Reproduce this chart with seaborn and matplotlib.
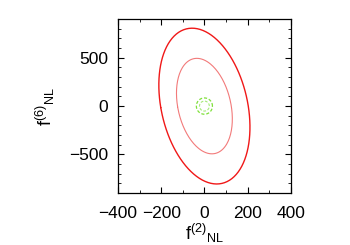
#!/usr/bin/env python3

import numpy as np
import pandas as pd
import matplotlib
matplotlib.use("Agg")
import matplotlib.pyplot as plt
import seaborn as sns
from matplotlib.ticker import MultipleLocator


# Fisher-matrix style error ellipses for f_NL^(2) vs f_NL^(6)
centre_x = 0.0
centre_y = 0.0

# wide constraint (red) and tight constraint (green)
sigma_x = [85.0, 15.0]
sigma_y = [325.0, 34.0]
rho = [-0.27, 0.0]
labels = ["wide", "tight"]

# 68% and 95% contour scale factors for 2 parameters
level_k = [1.52, 2.48]

x_ticks = [-400, -200, 0, 200, 400]
y_ticks = [-500, 0, 500]


def ellipse(sx, sy, r, k, n=200):
    t = np.linspace(0, 2 * np.pi, n)
    cov = np.array([[sx**2, r * sx * sy], [r * sx * sy, sy**2]])
    vals, vecs = np.linalg.eigh(cov)
    circ = np.vstack([np.cos(t), np.sin(t)]) * k
    pts = vecs @ (np.sqrt(vals)[:, None] * circ)
    return centre_x + pts[0], centre_y + pts[1]


frames = []
for i, name in enumerate(labels):
    for j, k in enumerate(level_k):
        ex, ey = ellipse(sigma_x[i], sigma_y[i], rho[i], k)
        frames.append(pd.DataFrame({"x": ex, "y": ey, "set": name, "level": j}))
df = pd.concat(frames, ignore_index=True)

sns.set_style("ticks")
plt.rcParams["font.family"] = ["Liberation Sans", "DejaVu Sans"]
plt.rcParams["mathtext.default"] = "regular"
for key in ["text.color", "axes.labelcolor", "xtick.color", "ytick.color"]:
    plt.rcParams[key] = "black"

fig = plt.figure(figsize=(3.5, 2.45), dpi=100)
ax = fig.add_axes([0.337, 0.212, 0.494, 0.71])

styles = {("wide", 1): dict(color="#f01818", lw=1.0, ls="-"),
          ("wide", 0): dict(color="#f27a7a", lw=0.8, ls="-"),
          ("tight", 1): dict(color="#7fe03a", lw=0.9, ls=(0, (2.5, 1.5))),
          ("tight", 0): dict(color="#a6ea7a", lw=0.8, ls=(0, (2.5, 1.5)))}

for (name, lev), sub in df.groupby(["set", "level"]):
    st = styles[(name, lev)]
    sns.lineplot(data=sub, x="x", y="y", sort=False, estimator=None, ax=ax,
                 color=st["color"], linewidth=st["lw"], linestyle=st["ls"])

ax.set_xlim(-400, 400)
ax.set_ylim(-900, 900)
ax.set_xticks(x_ticks)
ax.set_yticks(y_ticks)
ax.xaxis.set_minor_locator(MultipleLocator(100))
ax.yaxis.set_minor_locator(MultipleLocator(100))
ax.tick_params(which="both", direction="in", top=True, right=True,
               labelsize=12.5, color="black")
ax.tick_params(which="major", length=4, width=0.8)
ax.tick_params(axis="x", which="major", pad=9)
ax.tick_params(axis="y", which="major", pad=7)
ax.tick_params(which="minor", length=2.5, width=0.6)
for s in ax.spines.values():
    s.set_linewidth(0.9)
    s.set_color("black")

ax.set_xlabel(r"f$^{(2)}$$_{NL}$", fontsize=13, labelpad=1)
ax.set_ylabel(r"f$^{(6)}$$_{NL}$", fontsize=13, labelpad=9)

fig.savefig("out.png", dpi=100)
